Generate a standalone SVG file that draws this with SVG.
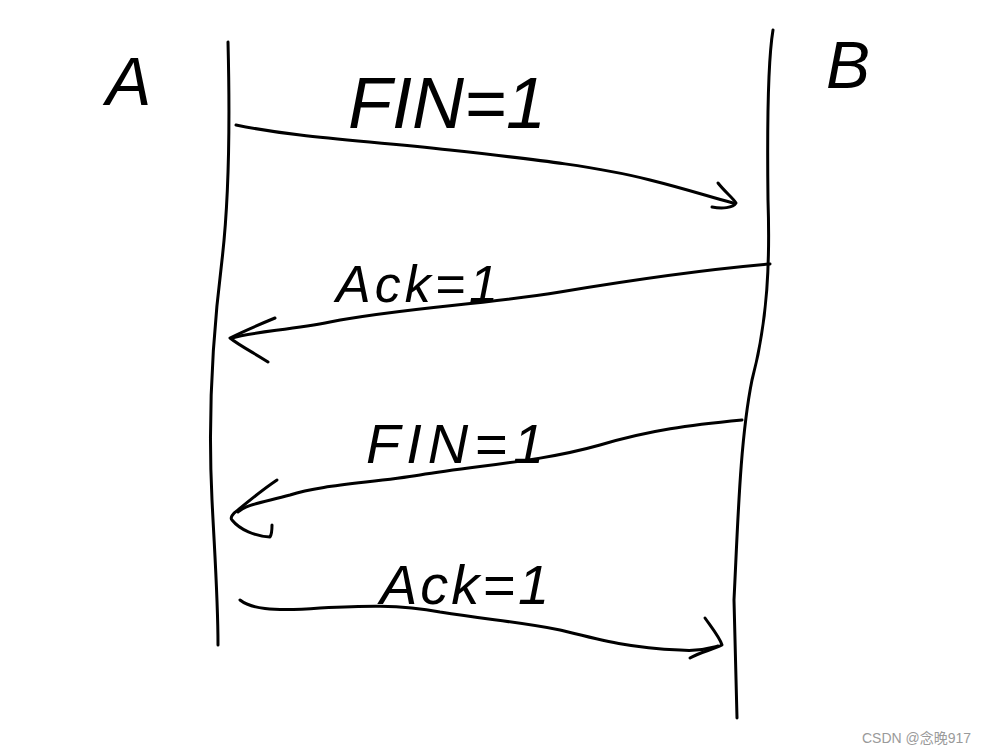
<svg xmlns="http://www.w3.org/2000/svg" width="988" height="754" viewBox="0 0 988 754">
<style>
.ln{fill:none;stroke:#000;stroke-width:3;stroke-linecap:round;stroke-linejoin:round}
.hw{font-family:"Liberation Sans",Arial,sans-serif;fill:#000;font-style:italic}
.wm{font-family:"Liberation Sans","Noto Sans CJK SC",sans-serif;fill:#9a9a9a;font-size:14px}
</style>
<rect width="988" height="754" fill="#fff"/>
<g id="nodeA">
<path class="ln" d="M228,42 C230,120 229,200 222,260 C212,340 208,420 212,500 C215,560 218,600 218,645"/>
<text class="hw" x="106" y="105" font-size="68">A</text>
</g>
<g id="nodeB">
<path class="ln" d="M773,30 C768,60 767,120 768,200 C770,260 768,320 752,380 C740,440 738,520 734,600 C735,650 736,690 737,718"/>
<text class="hw" x="826" y="88" font-size="66">B</text>
</g>
<g id="connectors">
<g id="msg1">
<path class="ln" d="M236,125 C300,138 360,140 450,150 C540,160 600,167 650,180 C690,190 710,197 733,203"/>
<path class="ln" d="M718,183 C725,192 733,198 736,203 C733,208 722,209 712,207"/>
<text class="hw" x="348" y="128" font-size="72" textLength="198" lengthAdjust="spacingAndGlyphs">FIN=1</text>
</g>
<g id="msg2">
<path class="ln" d="M770,264 C700,270 620,282 560,292 C480,305 400,308 330,322 C290,330 250,332 232,338"/>
<path class="ln" d="M275,318 C258,325 240,333 230,338 C240,346 256,354 268,362"/>
<text class="hw" x="336" y="302" font-size="52" letter-spacing="4">Ack=1</text>
</g>
<g id="msg3">
<path class="ln" d="M742,420 C690,425 650,430 600,445 C540,462 480,465 420,475 C370,483 320,485 290,495 C260,503 245,505 238,512"/>
<path class="ln" d="M277,480 C262,490 250,500 238,510 C232,514 230,518 232,520 C240,530 255,536 270,537 C272,534 272,528 272,525"/>
<text class="hw" x="366" y="463" font-size="56" letter-spacing="6">FIN=1</text>
</g>
<g id="msg4">
<path class="ln" d="M240,600 C250,608 270,612 320,608 C360,606 400,604 440,612 C490,620 520,622 560,630 C600,640 630,648 680,650 C700,652 710,648 718,646"/>
<path class="ln" d="M705,618 C712,628 720,638 722,645 C712,650 700,652 690,658"/>
<text class="hw" x="380" y="604" font-size="56" letter-spacing="3">Ack=1</text>
</g>
</g>
<text class="wm" x="862" y="743">CSDN @念晚917</text>
</svg>
